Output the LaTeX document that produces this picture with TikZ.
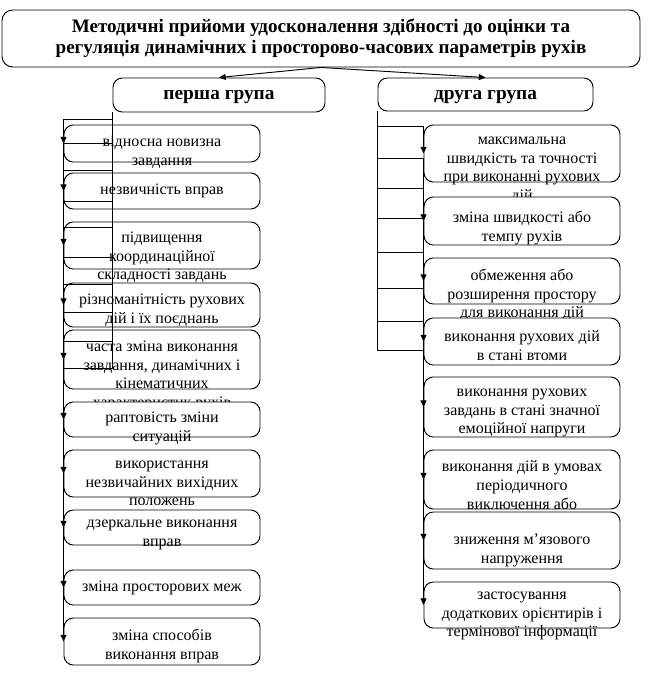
\documentclass[tikz,border=0pt]{standalone}
\usepackage{fontspec}
\setmainfont{Liberation Serif}
\usetikzlibrary{arrows.meta}

\begin{document}
\begin{tikzpicture}[x=0.75pt,y=0.75pt,yscale=-1,xscale=1,
  line width=0.7pt,
  titlebox/.style={draw,fill=white,rounded corners=8pt,inner sep=0pt,align=center,
    font=\bfseries\fontsize{14.3pt}{15.75pt}\selectfont},
  groupbox/.style={draw,fill=white,rounded corners=7pt,inner sep=0pt,text height=7pt,text depth=0pt,
    font=\bfseries\fontsize{14.5pt}{16pt}\selectfont},
  itembox/.style={draw,fill=white,rounded corners=7pt,inner sep=0pt,minimum width=147pt},
  itemtext/.style={inner sep=0pt,align=center,font=\fontsize{12pt}{14pt}\selectfont},
  conn/.style={-{Triangle[length=5pt,width=4.5pt]}}]

\useasboundingbox (0,0) rectangle (649,673);

\node[titlebox,minimum width=478.5pt,minimum height=42.75pt] (title) at (321,38.5)
  {Методичні прийоми удосконалення здібності до оцінки та\\регуляція динамічних і просторово-часових параметрів рухів};
\node[groupbox,minimum width=159pt,minimum height=25.5pt] (grp1) at (219,95) {перша група};
\node[groupbox,minimum width=161.25pt,minimum height=24.75pt] (grp2) at (485.5,94.5) {друга група};

\foreach \n/\t/\b/\o/\txt in {
  l1/125/162/11/{відносна новизна\\завдання},
  l2/173/209/11/{незвичність вправ},
  l3/222/269/10/{підвищення\\координаційної\\складності завдань},
  l4/283/327/11/{різноманітність рухових\\дій і їх поєднань},
  l5/330/389/11/{часта зміна виконання\\завдання, динамічних і\\кінематичних\\характеристик рухів},
  l6/402/437/10/{раптовість зміни\\ситуацій},
  l7/450/497/11/{використання\\незвичайних вихідних\\положень},
  l8/510/545/10/{дзеркальне виконання\\вправ},
  l9/570/605/11/{зміна просторових меж},
  l10/618/665/11/{зміна способів\\виконання вправ}}{
  \node[itembox,minimum height={(\b-\t)*0.75pt}] (\n) at (162,{(\t+\b)/2}) {};
  \node[itemtext,anchor=north,yshift={-\o*0.75pt}] (\n-txt) at (\n.north) {\txt};
}

\foreach \n/\t/\b/\o/\txt in {
  r1/125/182/12/{максимальна\\швидкість та точності\\при виконанні рухових\\дій},
  r2/197/245/14/{зміна швидкості або\\темпу рухів},
  r3/258/304/11/{обмеження або\\розширення простору\\для виконання дій},
  r4/318/365/13/{виконання рухових дій\\в стані втоми},
  r5/377/437/12/{виконання рухових\\завдань в стані значної\\емоційної напруги},
  r6/450/509/11/{виконання дій в умовах\\періодичного\\виключення або\\обмеження зору},
  r7/512/569/22/{зниження м'язового\\напруження},
  r8/582/628/10/{застосування\\додаткових орієнтирів і\\термінової інформації}}{
  \node[itembox,minimum height={(\b-\t)*0.75pt}] (\n) at (522,{(\t+\b)/2}) {};
  \node[itemtext,anchor=north,yshift={-\o*0.75pt}] (\n-txt) at (\n.north) {\txt};
}

\draw[conn] (title.south) -- (grp1.north);
\draw[conn] (title.south) -- (grp2.north);

\foreach \n/\d in {l1/7,l2/31,l3/58,l4/89,l5/115,l6/145,l7/172,l8/200,l9/229,l10/256}
  \draw[conn] (grp1.south west) -- ++(0,\d) -| (\n.west);

\foreach \n/\d in {r1/15,r2/47,r3/77,r4/107,r5/141,r6/177,r7/210,r8/239}
  \draw[conn] (grp2.south west) -- ++(0,\d) -| (\n.west);

\end{tikzpicture}
\end{document}
